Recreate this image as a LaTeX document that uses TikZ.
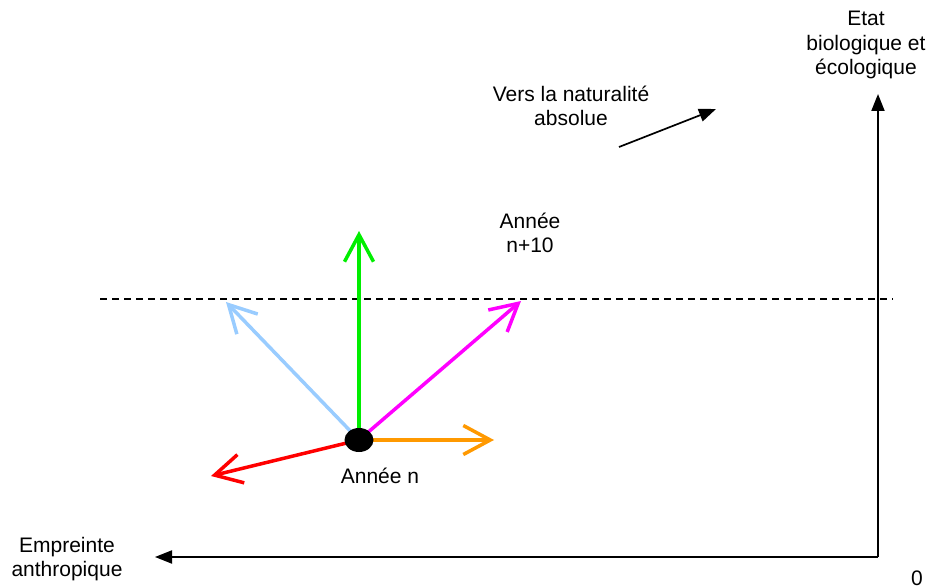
\documentclass[tikz,border=0pt]{standalone}
\usepackage{fontspec}
\setmainfont{Liberation Sans}
\usetikzlibrary{arrows.meta,shapes.geometric}
\definecolor{cgreen}{HTML}{00EE00}
\definecolor{cblue}{HTML}{99CCFF}
\definecolor{cmag}{HTML}{FF00FF}
\definecolor{corange}{HTML}{FF9900}
\definecolor{cred}{HTML}{FF0000}
\begin{document}
\begin{tikzpicture}[x=1pt,y=-1pt,
  lbl/.style={font=\fontsize{21}{24.5}\selectfont, align=center, inner sep=0pt},
  axis/.style={line width=2pt, -{Triangle[length=17pt,width=13pt]}},
  vec/.style={line width=3.5pt, -{Straight Barb[length=27pt,width=29pt,line width=3.5pt]}},
  blackarrow/.style={line width=1.7pt, -{Triangle[length=17pt,width=13pt]}}]
\useasboundingbox (0,0) rectangle (935,588);
% axes
\coordinate (O) at (878,557);
\coordinate (ytip) at (878,94);
\coordinate (xtip) at (155,557);
\draw[axis] (O) -- (ytip);
\draw[axis] (O) -- (xtip);
% dashed line
\coordinate (dl) at (100,299);
\coordinate (dr) at (893,299);
\draw[line width=1.3pt, dash pattern=on 7pt off 5pt] (dl) -- (dr);
% vectors
\coordinate (c) at (359,440);
\coordinate (tg) at (359,231);
\coordinate (tb) at (226,302);
\coordinate (tm) at (521,301);
\coordinate (to) at (494,440);
\coordinate (tr) at (211,476);
\draw[vec, cblue] (c) -- (tb);
\draw[vec, cgreen] (c) -- (tg);
\draw[vec, cmag] (c) -- (tm);
\draw[vec, corange] (c) -- (to);
\draw[vec, cred] (c) -- (tr);
\node[fill=black, ellipse, minimum width=29pt, minimum height=24pt, inner sep=0pt] (dot) at (c) {};
% black arrow
\coordinate (ba) at (619,147);
\coordinate (bb) at (716,109);
\draw[blackarrow] (ba) -- (bb);
% labels
\node[lbl] (vers) at (571,106) {Vers la naturalité\\absolue};
\node[lbl] (an10) at (530,233) {Année\\n+10};
\node[lbl] (ann) at (380,476) {Année n};
\node[lbl] (etat) at (866,45) {Etat\\biologique et\\écologique};
\node[lbl] (emp) at (67,559) {Empreinte\\anthropique};
\node[lbl] (zero) at (917,578) {0};
\end{tikzpicture}
\end{document}
